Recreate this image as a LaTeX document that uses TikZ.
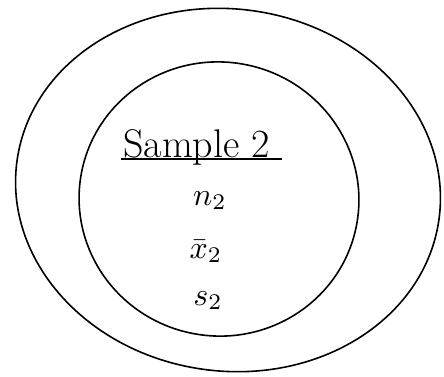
\documentclass[tikz,border=0pt]{standalone}
\begin{document}
\begin{tikzpicture}[x=1pt,y=-1pt,
  ring/.style={line width=1.6pt},
  big/.style={font=\fontsize{40}{44}\selectfont,inner sep=0pt},
  var/.style={scale=3.2,inner sep=0pt}]
\useasboundingbox (0,0) rectangle (444,376);
% outer ring
\draw[ring,rotate around={-8:(228,190)}] (228,190) ellipse[x radius=213,y radius=181];
% inner ring
\draw[ring,rotate around={-10:(219,199)}] (219,199) ellipse[x radius=140,y radius=137];
% texts
\node[big,anchor=base west] (title) at (123,157) {Sample 2};
\draw[line width=2pt] ([xshift=-2pt,yshift=-2pt]title.base west) -- ([xshift=12pt,yshift=-2pt]title.base east);
\node[var,anchor=base] (n) at (210,205) {$n_2$};
\node[var,anchor=base] (x) at (206,258) {$\bar{x}_2$};
\node[var,anchor=base] (s) at (208,305) {$s_2$};
\end{tikzpicture}
\end{document}
